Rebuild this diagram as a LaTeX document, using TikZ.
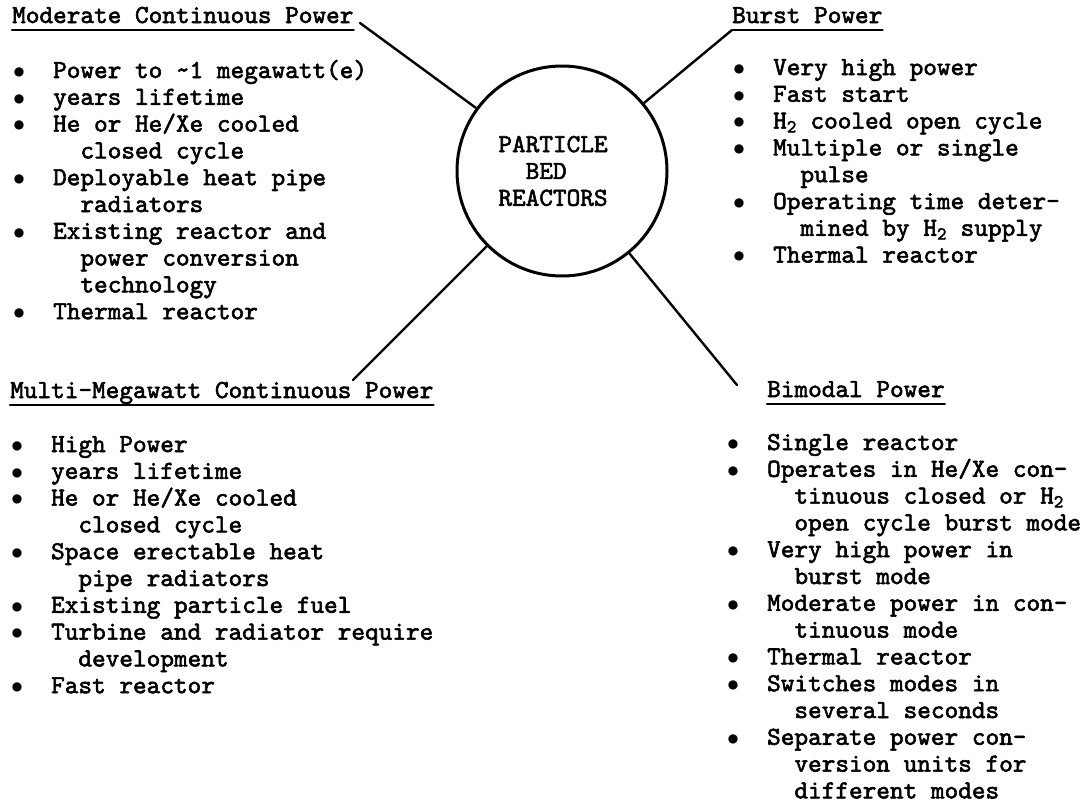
\documentclass[tikz,border=0pt]{standalone}
\usepackage{fontspec}
\newfontfamily\twfont{lmmono10-regular.otf}[FakeBold=2.2]
\newcommand{\pbrfont}{\fontsize{26bp}{26.8bp}\selectfont\twfont}
\newcommand{\bul}{\makebox[1.575em][l]{\makebox[0.525em][c]{\rmfamily\raisebox{-0.2em}{\scalebox{1.6}{\textbullet}}}}}
\newcommand{\ind}{\hspace*{2.625em}}
\tikzset{
  txt/.style={anchor=base west,inner sep=0pt,font=\pbrfont,text height=17bp,text depth=5bp},
  uline/.style={line width=2.5bp},
  conn/.style={black,line width=2.4bp},
}
\begin{document}
\begin{tikzpicture}[line join=bevel,line cap=round]
\useasboundingbox (0bp,0bp) rectangle (1088bp,-805bp);
%%
\node (node_0) at (562bp,-171bp) [circle,draw,line width=3bp,minimum size=210bp,inner sep=0pt,align=left,font=\pbrfont] {PARTICLE\hspace*{18bp}\\\hspace*{1.05em}BED\\REACTORS};
\node (node_1) at (12bp,-23bp) [txt] {Moderate Continuous Power};
\node (node_2) at (732bp,-23bp) [txt] {Burst Power};
\node (node_3) at (10bp,-398bp) [txt] {Multi-Megawatt Continuous Power};
\node (node_4) at (767bp,-397bp) [txt] {Bimodal Power};
\foreach \n in {node_1,node_2,node_3,node_4}
  \draw [uline] ([yshift=-7bp]\n.base west) -- ([yshift=-7bp]\n.base east);
%
\coordinate (c_1) at (360bp,-23bp);
\coordinate (c_3) at (353bp,-380bp);
\coordinate (c_4) at (737bp,-385bp);
\draw [conn] (c_1) -- (node_0);
\draw [conn] ([yshift=-7bp]node_2.base west) -- (node_0);
\draw [conn] (c_3) -- (node_0);
\draw [conn] (c_4) -- (node_0);
%
\foreach \ln [count=\i from 0] in {{\bul Power to \textasciitilde 1 megawatt(e)},{\bul years lifetime},
  {\bul He or He/Xe cooled},{\ind closed cycle},{\bul Deployable heat pipe},{\ind radiators},
  {\bul Existing reactor and},{\ind power conversion},{\ind technology},{\bul Thermal reactor}}
  \node (node_1_\i) at (12bp,{-78bp-26.8bp*\i}) [txt] {\ln};
\foreach \ln [count=\i from 0] in {{\bul Very high power},{\bul Fast start},
  {\bul H\textsubscript{2} cooled open cycle},{\bul Multiple or single},{\ind pulse},
  {\bul Operating time deter-},{\ind mined by H\textsubscript{2} supply},{\bul Thermal reactor}}
  \node (node_2_\i) at (732bp,{-75bp-26.8bp*\i}) [txt] {\ln};
\foreach \ln [count=\i from 0] in {{\bul High Power},{\bul years lifetime},
  {\bul He or He/Xe cooled},{\ind closed cycle},{\bul Space erectable heat},{\ind pipe radiators},
  {\bul Existing particle fuel},{\bul Turbine and radiator require},{\ind development},{\bul Fast reactor}}
  \node (node_3_\i) at (10bp,{-452bp-26.8bp*\i}) [txt] {\ln};
\foreach \ln [count=\i from 0] in {{\bul Single reactor},{\bul Operates in He/Xe con-},
  {\ind tinuous closed or H\textsubscript{2}},{\ind open cycle burst mode},{\bul Very high power in},
  {\ind burst mode},{\bul Moderate power in con-},{\ind tinuous mode},{\bul Thermal reactor},
  {\bul Switches modes in},{\ind several seconds},{\bul Separate power con-},
  {\ind version units for},{\ind different modes}}
  \node (node_4_\i) at (726bp,{-450bp-26.8bp*\i}) [txt] {\ln};
%
\end{tikzpicture}
\end{document}
